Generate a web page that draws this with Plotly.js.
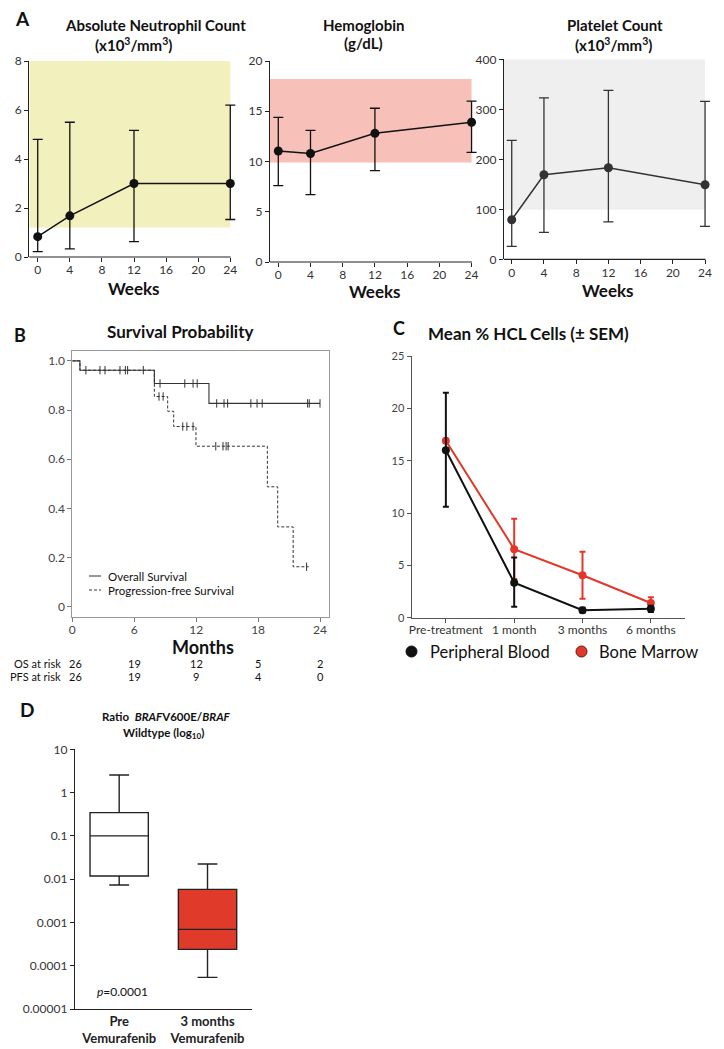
<!DOCTYPE html>
<html><head><meta charset="utf-8">
<script src="https://cdn.plot.ly/plotly-3.0.1.min.js"></script>
<style>html,body{margin:0;padding:0;background:#fff}#chart{width:724px;height:1049px}</style>
</head><body><div id="chart"></div>
<script>
// ---------- Panel A data ----------
const weeks = [0, 4, 12, 24];
const weekTicks = [0, 4, 8, 12, 16, 20, 24];
const ancMean = [0.83, 1.68, 3.0, 3.0];
const ancLow = [0.22, 0.33, 0.63, 1.53];
const ancHigh = [4.8, 5.5, 5.17, 6.2];
const ancNormal = [1.2, 8];
const hgbMean = [11.05, 10.8, 12.8, 13.9];
const hgbLow = [7.6, 6.7, 9.1, 10.9];
const hgbHigh = [14.4, 13.1, 15.3, 16.0];
const hgbNormal = [9.9, 18.2];
const pltMean = [79, 169, 183, 149];
const pltLow = [26, 54, 75, 66];
const pltHigh = [238, 323, 338, 316];
const pltNormal = [99, 400];

// ---------- Panel B data ----------
const osTimes = [0, 0.74, 7.95, 13.24, 24.0];
const osSurv = [1.0, 0.962, 0.908, 0.827, 0.827];
const osCensor = [1.32, 2.68, 3.17, 4.62, 5.14, 5.36, 6.88, 8.5, 10.9, 11.7, 12.1, 13.99, 14.7, 15.05, 17.3, 17.9, 18.4, 22.8, 22.96, 24.0];
const pfsTimes = [0, 0.74, 7.95, 9.24, 9.82, 11.98, 18.9, 19.9, 21.4, 22.9];
const pfsSurv = [1.0, 0.962, 0.855, 0.795, 0.733, 0.653, 0.488, 0.325, 0.163, 0.163];
const pfsCensor = [8.4, 8.8, 10.7, 11.1, 11.7, 13.9, 14.6, 14.9, 15.1, 22.7];
const riskMonths = [0, 6, 12, 18, 24];
const osAtRisk = [26, 19, 12, 5, 2];
const pfsAtRisk = [26, 19, 9, 4, 0];

// ---------- Panel C data ----------
const timepoints = ['Pre-treatment', '1 month', '3 months', '6 months'];
const pbMean = [16.0, 3.35, 0.72, 0.85];
const pbLow = [10.6, 1.05, 0.5, 0.55];
const pbHigh = [21.5, 5.75, 0.95, 1.15];
const bmMean = [16.9, 6.55, 4.05, 1.4];
const bmLow = [16.9, 3.7, 1.8, 0.9];
const bmHigh = [16.9, 9.45, 6.3, 1.95];

// ---------- Panel D data ----------
const groups = ['Pre<br>Vemurafenib', '3 months<br>Vemurafenib'];
const lowerWhisker = [0.0073, 0.0000537];
const q1 = [0.0118, 0.000239];
const medians = [0.1, 0.00069];
const q3 = [0.344, 0.0058];
const upperWhisker = [2.55, 0.0224];
const logTicks = [10, 1, 0.1, 0.01, 0.001, 0.0001, 0.00001];
const logTickText = ['10', '1', '0.1', '0.01', '0.001', '0.0001', '0.00001'];

// ---------- helpers ----------
const W = 724, H = 1049;
const FONT = 'Lato, "Open Sans", sans-serif';
const fx = p => p / W;
const fy = p => 1 - p / H;
const diff = (a, b) => a.map((v, i) => v - b[i]);
const survAt = (times, surv, t) => { let s = surv[0]; times.forEach((tt, i) => { if (tt <= t) s = surv[i]; }); return s; };

function axBase(extra) {
  return Object.assign({
    showgrid: false, zeroline: false, showline: true, linecolor: '#222', linewidth: 1.2,
    ticks: 'outside', ticklen: 4, tickwidth: 1, tickcolor: '#222',
    tickfont: {family: FONT, size: 12, color: '#333'}, fixedrange: true
  }, extra);
}

function aTrace(y, lo, hi, xa, ya, color) {
  return {
    type: 'scatter', mode: 'lines+markers', x: weeks, y: y, xaxis: xa, yaxis: ya,
    line: {color: color, width: 1.5}, marker: {color: color, size: 9}, cliponaxis: false,
    error_y: {type: 'data', symmetric: false, array: diff(hi, y), arrayminus: diff(y, lo), color: color, thickness: 1.3, width: 5},
    showlegend: false
  };
}

const censorMarker = {symbol: 'line-ns-open', size: 6, color: '#333', line: {color: '#333', width: 1}};

const traces = [
  aTrace(ancMean, ancLow, ancHigh, 'x', 'y', '#111'),
  aTrace(hgbMean, hgbLow, hgbHigh, 'x2', 'y2', '#111'),
  aTrace(pltMean, pltLow, pltHigh, 'x3', 'y3', '#333'),
  // Panel B KM curves
  {type: 'scatter', mode: 'lines', x: pfsTimes, y: pfsSurv, xaxis: 'x4', yaxis: 'y4', line: {shape: 'hv', color: '#333', width: 1, dash: '3px,2px'}, showlegend: false},
  {type: 'scatter', mode: 'lines', x: osTimes, y: osSurv, xaxis: 'x4', yaxis: 'y4', line: {shape: 'hv', color: '#333', width: 1.1}, showlegend: false},
  {type: 'scatter', mode: 'markers', x: osCensor, y: osCensor.map(t => survAt(osTimes, osSurv, t)), xaxis: 'x4', yaxis: 'y4', cliponaxis: false,
   marker: censorMarker, showlegend: false},
  {type: 'scatter', mode: 'markers', x: pfsCensor, y: pfsCensor.map(t => survAt(pfsTimes, pfsSurv, t)), xaxis: 'x4', yaxis: 'y4', cliponaxis: false,
   marker: censorMarker, showlegend: false},
  // Panel C
  {type: 'scatter', mode: 'lines+markers', x: timepoints, y: bmMean, xaxis: 'x5', yaxis: 'y5', cliponaxis: false,
   line: {color: '#e2382a', width: 2}, marker: {color: '#e2382a', size: 8},
   error_y: {type: 'data', symmetric: false, array: diff(bmHigh, bmMean), arrayminus: diff(bmMean, bmLow), color: '#e2382a', thickness: 2, width: 3}, showlegend: false},
  {type: 'scatter', mode: 'lines+markers', x: timepoints, y: pbMean, xaxis: 'x5', yaxis: 'y5', cliponaxis: false,
   line: {color: '#111', width: 2}, marker: {color: '#111', size: 8},
   error_y: {type: 'data', symmetric: false, array: diff(pbHigh, pbMean), arrayminus: diff(pbMean, pbLow), color: '#111', thickness: 2, width: 3}, showlegend: false},
  // Panel D boxes
  {type: 'box', x: [groups[0]], q1: [q1[0]], median: [medians[0]], q3: [q3[0]], lowerfence: [lowerWhisker[0]], upperfence: [upperWhisker[0]],
   xaxis: 'x6', yaxis: 'y6', fillcolor: '#ffffff', line: {color: '#222', width: 1.4}, width: 0.66, whiskerwidth: 0.34, boxpoints: false, showlegend: false, hoverinfo: 'skip'},
  {type: 'box', x: [groups[1]], q1: [q1[1]], median: [medians[1]], q3: [q3[1]], lowerfence: [lowerWhisker[1]], upperfence: [upperWhisker[1]],
   xaxis: 'x6', yaxis: 'y6', fillcolor: '#e03a2b', line: {color: '#222', width: 1.4}, width: 0.66, whiskerwidth: 0.34, boxpoints: false, showlegend: false, hoverinfo: 'skip'}
];

const txt = (text, x, y, size, opts) => Object.assign({
  text: text, x: fx(x), y: fy(y), xref: 'paper', yref: 'paper', showarrow: false,
  xanchor: 'center', yanchor: 'middle', font: {family: FONT, size: size, color: '#111'}
}, opts || {});

const annotations = [
  txt('<b>A</b>', 22, 18, 19),
  txt('<b>Absolute Neutrophil Count</b>', 155, 25, 15),
  txt('<b>(x10<sup>3</sup>/mm<sup>3</sup>)</b>', 133, 44, 15),
  txt('<b>Hemoglobin</b>', 364, 25, 15),
  txt('<b>(g/dL)</b>', 363, 43, 15),
  txt('<b>Platelet Count</b>', 615, 25, 15),
  txt('<b>(x10<sup>3</sup>/mm<sup>3</sup>)</b>', 613, 44, 15),
  txt('<b>Weeks</b>', 134, 288, 17),
  txt('<b>Weeks</b>', 375, 291, 17),
  txt('<b>Weeks</b>', 608, 290, 17),
  txt('<b>B</b>', 20, 335, 18),
  txt('<b>Survival Probability</b>', 180, 332, 17),
  txt('Overall Survival', 106, 576, 11.5, {xanchor: 'left'}),
  txt('Progression-free Survival', 106, 590, 11.5, {xanchor: 'left'}),
  txt('<b>Months</b>', 203, 647, 18),
  txt('OS at risk', 63, 663, 11, {xanchor: 'right'}),
  txt('PFS at risk', 63, 676, 11, {xanchor: 'right'}),
  txt('<b>C</b>', 399, 328, 18),
  txt('<b>Mean % HCL Cells (± SEM)</b>', 528, 333, 17),
  txt('Peripheral Blood', 428, 652, 16.5, {xanchor: 'left'}),
  txt('Bone Marrow', 597, 652, 16.5, {xanchor: 'left'}),
  txt('<b>D</b>', 27, 709, 19),
  txt('<b>Ratio  <i>BRAF</i>V600E/<i>BRAF</i></b>', 166, 716, 11.5),
  txt('<b>Wildtype (log<sub>10</sub>)</b>', 163, 733, 11.5),
  txt('<i>p</i>=0.0001', 95, 991, 12, {xanchor: 'left'})
];
riskMonths.forEach((m, i) => {
  const xs = i === 0 ? 3 : 0;
  annotations.push({text: String(osAtRisk[i]), x: m, y: fy(663), xref: 'x4', yref: 'paper', xshift: xs, showarrow: false, xanchor: 'center', yanchor: 'middle', font: {family: FONT, size: 11, color: '#111'}});
  annotations.push({text: String(pfsAtRisk[i]), x: m, y: fy(676), xref: 'x4', yref: 'paper', xshift: xs, showarrow: false, xanchor: 'center', yanchor: 'middle', font: {family: FONT, size: 11, color: '#111'}});
});

const hline = (x0, x1, y, color, w, dash) => ({type: 'line', xref: 'paper', yref: 'paper', x0: fx(x0), x1: fx(x1), y0: fy(y), y1: fy(y), line: {color: color, width: w, dash: dash || 'solid'}});

const shapes = [
  {type: 'rect', xref: 'x', yref: 'y', x0: -1.05, x1: 24, y0: ancNormal[0], y1: ancNormal[1], fillcolor: '#f2f0bd', line: {width: 0}, layer: 'below'},
  {type: 'rect', xref: 'x2', yref: 'y2', x0: -1.03, x1: 24, y0: hgbNormal[0], y1: hgbNormal[1], fillcolor: '#f7c0b9', line: {width: 0}, layer: 'below'},
  {type: 'rect', xref: 'x3', yref: 'y3', x0: -0.96, x1: 24, y0: pltNormal[0], y1: pltNormal[1], fillcolor: '#efefef', line: {width: 0}, layer: 'below'},
  // x axis lines of panel A (ending at week 24)
  hline(29.3, 230.7, 257, '#222', 1.2),
  hline(270, 472, 262, '#222', 1.2),
  hline(504, 705.5, 259.3, '#222', 1.2),
  // legend samples panel B
  hline(89, 101, 576, '#333', 1),
  hline(89, 101, 590, '#333', 1, '3px,2px'),
  // legend markers panel C
  {type: 'circle', xref: 'paper', yref: 'paper', x0: fx(406), x1: fx(417), y0: fy(657), y1: fy(646), fillcolor: '#111', line: {color: '#111', width: 1}},
  {type: 'circle', xref: 'paper', yref: 'paper', x0: fx(576), x1: fx(587), y0: fy(657), y1: fy(646), fillcolor: '#e2382a', line: {color: '#5a1a14', width: 1}}
];

const aX = (l, r, lo, anchor) => axBase({domain: [fx(l), fx(r)], range: [lo, 24.8], tickvals: weekTicks, anchor: anchor, showline: false, ticklabelstandoff: -2});

const layout = {
  width: W, height: H, margin: {l: 0, r: 0, t: 0, b: 0}, autosize: false,
  paper_bgcolor: '#fff', plot_bgcolor: 'rgba(0,0,0,0)', showlegend: false,
  font: {family: FONT, color: '#111'},
  xaxis: aX(29.3, 236.7, -1.05, 'y'),
  yaxis: axBase({domain: [fy(257), fy(61)], range: [0, 8], tickvals: [0, 2, 4, 6, 8], anchor: 'x'}),
  xaxis2: aX(270, 478.0, -1.03, 'y2'),
  yaxis2: axBase({domain: [fy(262), fy(61)], range: [0, 20], tickvals: [0, 5, 10, 15, 20], anchor: 'x2'}),
  xaxis3: aX(504, 711.5, -0.96, 'y3'),
  yaxis3: axBase({domain: [fy(259.3), fy(59.3)], range: [0, 400], tickvals: [0, 100, 200, 300, 400], anchor: 'x3'}),
  xaxis4: axBase({domain: [fx(72.3), fx(329.3)], range: [0, 24.9], tickvals: riskMonths, anchor: 'y4', mirror: true, linecolor: '#999', tickcolor: '#777', linewidth: 1, ticklabelstandoff: -2, tickfont: {family: FONT, size: 12, color: '#444'}}),
  yaxis4: axBase({domain: [fy(616.7), fy(351)], range: [-0.04, 1.04], tickvals: [0, 0.2, 0.4, 0.6, 0.8, 1.0], ticktext: ['0', '0.2', '0.4', '0.6', '0.8', '1.0'], anchor: 'x4', mirror: true, linecolor: '#999', tickcolor: '#777', linewidth: 1, tickfont: {family: FONT, size: 12, color: '#444'}}),
  xaxis5: axBase({domain: [fx(411.7), fx(685)], type: 'category', categoryarray: timepoints, range: [-0.5, 3.5], anchor: 'y5', linecolor: '#555', tickcolor: '#555', ticklabelstandoff: -3, tickfont: {family: FONT, size: 12, color: '#333'}}),
  yaxis5: axBase({domain: [fy(617.7), fy(356)], range: [0, 25], tickvals: [0, 5, 10, 15, 20, 25], anchor: 'x5', linecolor: '#555', tickcolor: '#555', tickfont: {family: FONT, size: 11, color: '#444'}}),
  xaxis6: axBase({domain: [fx(75), fx(251.7)], type: 'category', categoryarray: groups, range: [-0.5, 1.5], anchor: 'y6', ticks: '', tickfont: {family: FONT, size: 13, color: '#222', weight: 'bold'}}),
  yaxis6: axBase({domain: [fy(1009), fy(749.3)], type: 'log', range: [-5, 1], tickvals: logTicks, ticktext: logTickText, anchor: 'x6', tickfont: {family: FONT, size: 12, color: '#333'}}),
  annotations: annotations,
  shapes: shapes
};

Plotly.newPlot('chart', traces, layout, {staticPlot: true, displayModeBar: false});
</script>
</body></html>
